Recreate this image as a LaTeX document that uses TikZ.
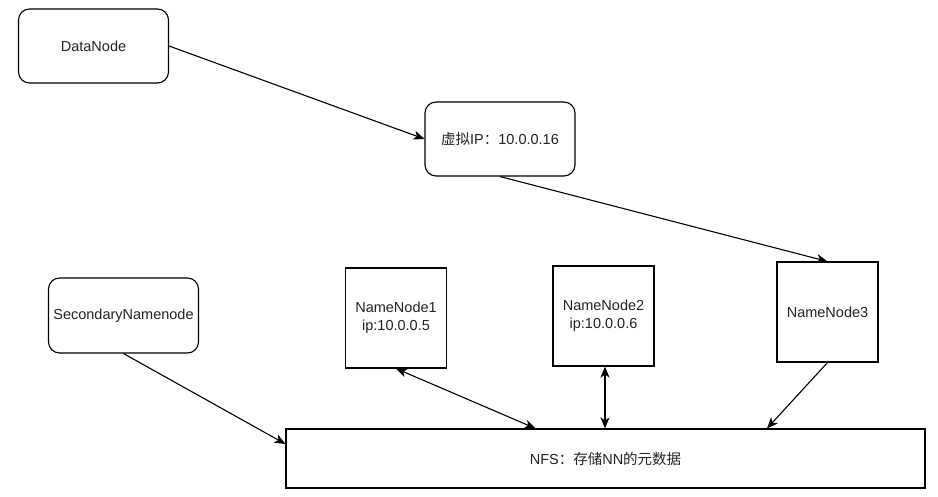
\documentclass[tikz,border=0pt]{standalone}
\usepackage{fontspec}
\setmainfont{Liberation Sans}
\newfontfamily\cjk{Noto Sans CJK SC}
\usetikzlibrary{positioning,arrows.meta,calc}
\definecolor{inkText}{HTML}{222222}

\begin{document}
\begin{tikzpicture}[
  x=1pt, y=-1pt,
  font=\fontsize{14.5}{17.5}\selectfont,
  every node/.style={text=inkText},
  rbox/.style={draw, line width=1.1pt, rounded corners=11pt, align=center,
               minimum width=150pt, minimum height=74pt, inner sep=1pt},
  sqbox/.style={draw, line width=1.1pt, align=center,
                minimum width=101pt, minimum height=100pt, inner sep=1pt},
  flow/.style={-{Stealth[length=11pt,width=9pt,inset=3pt]}, line width=1.1pt},
  flowbi/.style={{Stealth[length=11pt,width=9pt,inset=3pt]}-{Stealth[length=11pt,width=9pt,inset=3pt]},
                 line width=1.1pt},
]
\useasboundingbox (0,0) rectangle (938,497);

% ---------------- NODES (absolute grid, px) ----------------
\node[rbox] (DN) at (93.5,46) {DataNode};
\node[rbox] (VIP) at (500,139) {{\cjk 虚拟}IP{\cjk ：}10.0.0.16};
\node[rbox, minimum height=75pt] (SNN) at (123.5,315.5) {SecondaryNamenode};

\node[sqbox] (NN1) at (396,318) {NameNode1\\ip:10.0.0.5};
\node[sqbox] (NN2) at (603.5,316) {NameNode2\\ip:10.0.0.6};
\node[sqbox] (NN3) at (827.5,312) {NameNode3};

\node[draw, line width=1.1pt, minimum width=639pt, minimum height=59pt] (NFS)
  at (605.5,458.5) {NFS{\cjk ：存储}NN{\cjk 的元数据}};

% ---------------- EDGES ----------------
\draw[flow] (DN.east) -- (VIP.west);
\draw[flow] (VIP.south) -- (NN3.north);
\draw[flow] (SNN.south) -- ([yshift=14.5pt]NFS.west);
\draw[flowbi] (NN1.south) -- ([xshift=-70pt]NFS.north);
\draw[flowbi] ([xshift=1.5pt]NN2.south) -- ([xshift=1.5pt]NN2.south |- NFS.north);
\draw[flow] (NN3.south) -- ([xshift=161.5pt]NFS.north);
\end{tikzpicture}
\end{document}
